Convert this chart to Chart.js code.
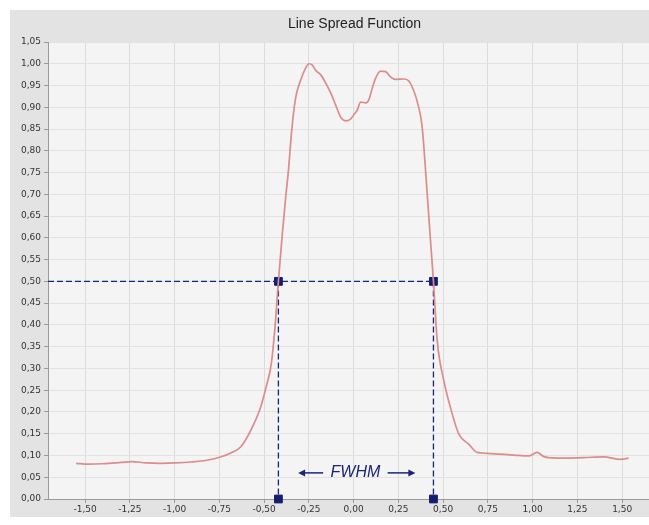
<!DOCTYPE html>
<html>
<head>
<meta charset="utf-8">
<script src="https://cdn.jsdelivr.net/npm/chart.js@4.4.1/dist/chart.umd.min.js"></script>
<style>
  html, body { margin: 0; padding: 0; background: #fff; }
  #wrap { width: 649px; height: 525px; }
</style>
</head>
<body>
<div id="wrap"><canvas id="lsfChart" width="649" height="525"></canvas></div>
<script>
// Line spread function
const lsfX = [-1.55, -1.48, -1.40, -1.30, -1.24, -1.16, -1.08, -1.00, -0.91, -0.82,
  -0.74, -0.68, -0.63, -0.575, -0.52, -0.49, -0.46, -0.44, -0.42, -0.40,
  -0.38, -0.364, -0.345, -0.324, -0.296, -0.268, -0.249, -0.230, -0.212, -0.184,
  -0.155, -0.128, -0.10, -0.073, -0.045, -0.017, 0.005, 0.021, 0.039, 0.067,
  0.085, 0.105, 0.123, 0.151, 0.179, 0.206, 0.234, 0.279, 0.307, 0.335,
  0.363, 0.383, 0.402, 0.425, 0.446, 0.467, 0.504, 0.541, 0.588, 0.643,
  0.690, 0.746, 0.820, 0.895, 0.978, 1.025, 1.060, 1.090, 1.174, 1.285,
  1.397, 1.490, 1.536];
const lsfY = [0.082, 0.080, 0.081, 0.084, 0.086, 0.083, 0.082, 0.083, 0.085, 0.089,
  0.097, 0.107, 0.120, 0.157, 0.210, 0.255, 0.310, 0.390, 0.500, 0.600,
  0.690, 0.755, 0.850, 0.921, 0.962, 0.990, 1.000, 0.997, 0.985, 0.975,
  0.955, 0.933, 0.905, 0.878, 0.869, 0.873, 0.885, 0.894, 0.912, 0.910,
  0.917, 0.945, 0.967, 0.983, 0.982, 0.970, 0.964, 0.965, 0.961, 0.939,
  0.901, 0.855, 0.755, 0.620, 0.500, 0.364, 0.272, 0.210, 0.149, 0.126,
  0.107, 0.105, 0.103, 0.101, 0.099, 0.107, 0.098, 0.095, 0.094, 0.095,
  0.097, 0.091, 0.094];

const xTicks = [-1.5, -1.25, -1.0, -0.75, -0.5, -0.25, 0, 0.25, 0.5, 0.75, 1.0, 1.25, 1.5];
const yTicks = [0, 0.05, 0.10, 0.15, 0.20, 0.25, 0.30, 0.35, 0.40, 0.45, 0.50,
  0.55, 0.60, 0.65, 0.70, 0.75, 0.80, 0.85, 0.90, 0.95, 1.00, 1.05];
const xMin = -1.707;
const xMax = 1.65;

// FWHM construction
const halfMax = 0.5;
const fwhmLeft = -0.42;
const fwhmRight = 0.446;
const fwhmLabel = 'FWHM';
const labelY = 0.06;
const leftArrow = [-0.17, -0.31];   // tail, tip
const rightArrow = [0.19, 0.345];   // tail, tip

const chartTitle = 'Line Spread Function';
const navy = '#1b2479';
const tickFont = { family: 'DejaVu Sans', size: 9 };

function fmt(v) {
    return Number(v).toFixed(2).replace('.', ',');
}

// grey panel, plot background and title
const backdrop = {
    id: 'backdrop',
    beforeDraw(chart) {
        const { ctx, chartArea: a } = chart;
        ctx.save();
        ctx.fillStyle = '#fff';
        ctx.fillRect(0, 0, chart.width, chart.height);
        ctx.fillStyle = '#e3e3e3';
        ctx.fillRect(10, 10, chart.width - 10, chart.height - 18);
        ctx.fillStyle = '#f4f4f4';
        ctx.fillRect(a.left, a.top, a.right - a.left, a.bottom - a.top);
        ctx.fillStyle = '#222';
        ctx.font = '14px "Liberation Sans"';
        ctx.textAlign = 'center';
        ctx.textBaseline = 'middle';
        ctx.fillText(chartTitle, (a.left + a.right) / 2 + 6, 24);
        ctx.restore();
    }
};

// arrows and FWHM label
const fwhmNote = {
    id: 'fwhmNote',
    afterDatasetsDraw(chart) {
        const { ctx, scales: { x, y } } = chart;
        const py = y.getPixelForValue(labelY);
        ctx.save();
        ctx.strokeStyle = navy;
        ctx.fillStyle = navy;
        ctx.lineWidth = 1.5;
        [leftArrow, rightArrow].forEach(([tail, tip]) => {
            const x0 = x.getPixelForValue(tail);
            const x1 = x.getPixelForValue(tip);
            const dir = Math.sign(x1 - x0);
            ctx.beginPath();
            ctx.moveTo(x0, py);
            ctx.lineTo(x1 - dir * 4, py);
            ctx.stroke();
            ctx.beginPath();
            ctx.moveTo(x1, py);
            ctx.lineTo(x1 - dir * 7, py - 3.5);
            ctx.lineTo(x1 - dir * 7, py + 3.5);
            ctx.closePath();
            ctx.fill();
        });
        ctx.font = 'italic 16px "Liberation Sans"';
        ctx.textAlign = 'center';
        ctx.textBaseline = 'middle';
        ctx.fillText(fwhmLabel, x.getPixelForValue((leftArrow[0] + rightArrow[0]) / 2), py);
        ctx.restore();
    }
};

const ctx = document.getElementById('lsfChart').getContext('2d');

const lsfChart = new Chart(ctx, {
    type: 'scatter',
    data: {
        datasets: [
            {
                label: 'LSF',
                data: lsfX.map((v, i) => ({ x: v, y: lsfY[i] })),
                showLine: true,
                borderColor: '#dc8c8c',
                borderWidth: 1.7,
                pointRadius: 0,
                cubicInterpolationMode: 'monotone'
            },
            {
                label: 'half max',
                data: [{ x: xMin, y: halfMax }, { x: fwhmRight, y: halfMax }],
                showLine: true,
                borderColor: navy,
                borderWidth: 1.3,
                borderDash: [6, 3],
                pointRadius: 0
            },
            {
                label: 'left edge',
                data: [{ x: fwhmLeft, y: halfMax }, { x: fwhmLeft, y: 0 }],
                showLine: true,
                borderColor: navy,
                borderWidth: 1.3,
                borderDash: [6, 3],
                pointRadius: 0
            },
            {
                label: 'right edge',
                data: [{ x: fwhmRight, y: halfMax }, { x: fwhmRight, y: 0 }],
                showLine: true,
                borderColor: navy,
                borderWidth: 1.3,
                borderDash: [6, 3],
                pointRadius: 0
            },
            {
                label: 'markers',
                data: [
                    { x: fwhmLeft, y: halfMax }, { x: fwhmRight, y: halfMax },
                    { x: fwhmLeft, y: 0 }, { x: fwhmRight, y: 0 }
                ],
                pointStyle: 'rect',
                pointRadius: 5.5,
                backgroundColor: '#141d6e',
                borderColor: '#141d6e',
                borderWidth: 1,
                clip: false
            }
        ]
    },
    options: {
        responsive: false,
        animation: false,
        devicePixelRatio: 1,
        layout: {
            autoPadding: false,
            padding: { left: 10, top: 42, right: 0, bottom: 10 }
        },
        plugins: {
            legend: { display: false },
            tooltip: { enabled: false },
            title: { display: false }
        },
        scales: {
            x: {
                type: 'linear',
                min: xMin,
                max: xMax,
                afterBuildTicks: axis => { axis.ticks = xTicks.map(v => ({ value: v })); },
                afterFit: axis => { axis.height = 16; },
                ticks: {
                    callback: v => fmt(v),
                    font: tickFont,
                    color: '#333',
                    padding: 1,
                    maxRotation: 0,
                    autoSkip: false
                },
                grid: {
                    color: '#dcdcdc',
                    tickColor: '#9a9a9a',
                    tickLength: 4
                },
                border: { color: '#9a9a9a' }
            },
            y: {
                min: 0,
                max: 1.05,
                afterBuildTicks: axis => { axis.ticks = yTicks.map(v => ({ value: v })); },
                afterFit: axis => { axis.width = 38; },
                ticks: {
                    callback: v => fmt(v),
                    font: tickFont,
                    color: '#333',
                    padding: 3,
                    autoSkip: false
                },
                grid: {
                    color: '#e2e2e2',
                    tickColor: '#9a9a9a',
                    tickLength: 4
                },
                border: { color: '#9a9a9a' }
            }
        }
    },
    plugins: [backdrop, fwhmNote]
});
</script>
</body>
</html>
